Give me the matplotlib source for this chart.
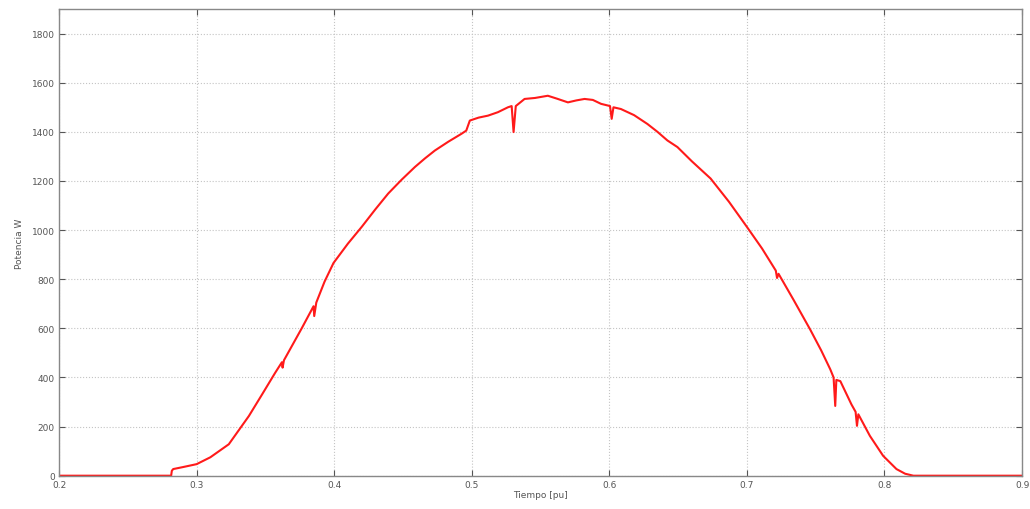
import numpy as np
import matplotlib
matplotlib.use("Agg")
import matplotlib.pyplot as plt

# Power curve (time in pu, power in W)
tiempo = [0.200, 0.2815, 0.2820, 0.2830, 0.290, 0.300, 0.310, 0.3234,
          0.338, 0.3475, 0.357, 0.3620, 0.3625, 0.3635, 0.3765, 0.3850,
          0.3855, 0.3870, 0.393, 0.3995, 0.410, 0.420, 0.430, 0.4393,
          0.449, 0.4587, 0.466, 0.4732, 0.483, 0.4925, 0.4960, 0.4986,
          0.505, 0.5118, 0.519, 0.5263, 0.5290, 0.5304, 0.5320, 0.5384,
          0.546, 0.5553, 0.562, 0.5699, 0.576, 0.582, 0.588, 0.594,
          0.6005, 0.6017, 0.6030, 0.6084, 0.618, 0.6277, 0.635, 0.6422,
          0.6495, 0.660, 0.6736, 0.687, 0.700, 0.711, 0.7210, 0.7219,
          0.7230, 0.734, 0.746, 0.754, 0.7606, 0.7630, 0.7642, 0.7650,
          0.7679, 0.7760, 0.7790, 0.7800, 0.7810, 0.7894, 0.799, 0.8087,
          0.815, 0.821, 0.900]
potencia = [0, 0, 20, 27, 35, 47, 75, 128,
            243, 330, 418, 462, 440, 470, 601, 690,
            650, 705, 790, 866, 945, 1013, 1085, 1149,
            1205, 1257, 1292, 1324, 1360, 1392, 1405, 1446,
            1458, 1466, 1480, 1500, 1505, 1399, 1505, 1534,
            1538, 1547, 1535, 1520, 1528, 1534, 1530, 1514,
            1505, 1453, 1500, 1493, 1468, 1432, 1400, 1365,
            1338, 1280, 1210, 1115, 1013, 925, 835, 805,
            822, 715, 595, 510, 433, 400, 284, 390,
            385, 290, 260, 203, 250, 162, 81, 27,
            8, 0, 0]

x_ticks = [0.2, 0.3, 0.4, 0.5, 0.6, 0.7, 0.8, 0.9]
y_ticks = [0, 200, 400, 600, 800, 1000, 1200, 1400, 1600, 1800]

fig = plt.figure(figsize=(10.30, 5.10), dpi=100)
ax = fig.add_axes([0.0573, 0.0653, 0.935, 0.915])

ax.plot(tiempo, potencia, color="#ff1a1a", linewidth=1.5)

ax.set_xlim(0.2, 0.9)
ax.set_ylim(0, 1900)
ax.set_xticks(x_ticks)
ax.set_yticks(y_ticks)
ax.set_xticklabels([f"{v:g}" for v in x_ticks])
ax.grid(True, linestyle=":", color="#c4c4c4", linewidth=0.8)

ax.tick_params(direction="in", length=4, width=0.8, colors="#555555",
               labelsize=6.5, top=True, right=True)
ax.tick_params(axis="x", pad=3)
ax.tick_params(axis="y", pad=3)
for s in ax.spines.values():
    s.set_color("#888888")
    s.set_linewidth(1.0)

ax.set_xlabel("Tiempo [pu]", fontsize=6.5, color="#555555", labelpad=1)
ax.set_ylabel("Potencia W", fontsize=6.5, color="#555555", labelpad=6)

fig.savefig("out.png", dpi=100, facecolor="white")
